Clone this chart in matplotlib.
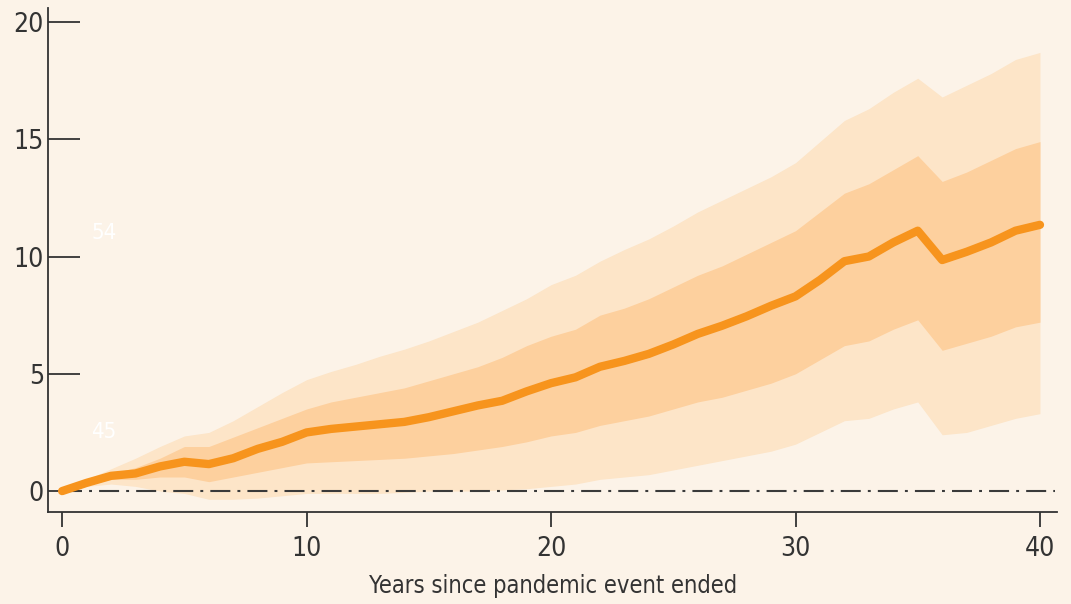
import matplotlib.pyplot as plt
from matplotlib import font_manager

# years since the pandemic event ended
years = list(range(41))

# median response (percent)
median = [0.0, 0.35, 0.65, 0.75, 1.05, 1.25, 1.15, 1.4, 1.8, 2.1,
          2.5, 2.65, 2.75, 2.85, 2.95, 3.15, 3.4, 3.65, 3.85, 4.25,
          4.6, 4.85, 5.3, 5.55, 5.85, 6.25, 6.7, 7.05, 7.45, 7.9,
          8.3, 9.0, 9.8, 10.0, 10.6, 11.1, 9.85, 10.2, 10.6, 11.1, 11.35]

# inner band (68%)
inner_hi = [0.0, 0.4, 0.75, 1.0, 1.4, 1.9, 1.9, 2.3, 2.7, 3.1,
            3.5, 3.8, 4.0, 4.2, 4.4, 4.7, 5.0, 5.3, 5.7, 6.2,
            6.6, 6.9, 7.5, 7.8, 8.2, 8.7, 9.2, 9.6, 10.1, 10.6,
            11.1, 11.9, 12.7, 13.1, 13.7, 14.3, 13.2, 13.6, 14.1, 14.6, 14.9]
inner_lo = [0.0, 0.3, 0.5, 0.5, 0.6, 0.6, 0.4, 0.6, 0.8, 1.0,
            1.2, 1.25, 1.3, 1.35, 1.4, 1.5, 1.6, 1.75, 1.9, 2.1,
            2.35, 2.5, 2.8, 3.0, 3.2, 3.5, 3.8, 4.0, 4.3, 4.6,
            5.0, 5.6, 6.2, 6.4, 6.9, 7.3, 6.0, 6.3, 6.6, 7.0, 7.2]

# outer band (95%)
outer_hi = [0.0, 0.5, 0.95, 1.4, 1.9, 2.35, 2.5, 3.0, 3.6, 4.2,
            4.75, 5.1, 5.4, 5.75, 6.05, 6.4, 6.8, 7.2, 7.7, 8.2,
            8.8, 9.2, 9.8, 10.3, 10.75, 11.3, 11.9, 12.4, 12.9, 13.4,
            14.0, 14.9, 15.8, 16.3, 17.0, 17.6, 16.8, 17.3, 17.8, 18.4, 18.7]
outer_lo = [0.0, 0.2, 0.3, 0.2, 0.0, -0.1, -0.35, -0.35, -0.3, -0.2,
            -0.1, -0.1, -0.1, -0.1, -0.05, 0.0, 0.0, 0.0, 0.05, 0.1,
            0.2, 0.3, 0.5, 0.6, 0.7, 0.9, 1.1, 1.3, 1.5, 1.7,
            2.0, 2.5, 3.0, 3.1, 3.5, 3.8, 2.4, 2.5, 2.8, 3.1, 3.3]

x_ticks = [0, 10, 20, 30, 40]
y_ticks = [0, 5, 10, 15, 20]

bg = "#fcf3e8"
ink = "#333333"

# narrow font if there is one, else condensed DejaVu
names = {f.name for f in font_manager.fontManager.ttflist}
if "Liberation Sans Narrow" in names:
    plt.rcParams['font.family'] = ['Liberation Sans Narrow', 'DejaVu Sans']
else:
    plt.rcParams['font.family'] = ['DejaVu Sans']
    plt.rcParams['font.stretch'] = 'condensed'

fig = plt.figure(figsize=(10.71, 6.04), dpi=100, facecolor=bg)
ax = fig.add_axes([0.045, 0.152, 0.942, 0.835], facecolor=bg)

ax.fill_between(years, outer_lo, outer_hi, color="#fde5c8", lw=0)
ax.fill_between(years, inner_lo, inner_hi, color="#fdd09e", lw=0)
ax.plot([0, 40.6], [0, 0], color="#3a3a3a", lw=1.5, dashes=[9.6, 3.4, 1.4, 3.4])
ax.plot(years, median, color="#f7941d", lw=6, solid_capstyle="round")

# faint white labels left over in the original
ax.text(1.2, 11.0, "54", color="white", fontsize=16, va="center")
ax.text(1.2, 2.5, "45", color="white", fontsize=16, va="center")

ax.set_xlim(-0.57, 40.7)
ax.set_ylim(-0.9, 20.6)
ax.set_xticks(x_ticks)
ax.set_yticks(y_ticks)

for side in ["top", "right"]:
    ax.spines[side].set_visible(False)
for side in ["left", "bottom"]:
    ax.spines[side].set_color(ink)
    ax.spines[side].set_linewidth(1.3)

ax.tick_params(axis="y", direction="in", length=23, width=1.3, color=ink,
               labelsize=19, labelcolor=ink, pad=3)
ax.tick_params(axis="x", direction="out", length=11, width=1.3, color=ink,
               labelsize=19, labelcolor=ink, pad=6)

ax.set_xlabel("Years since pandemic event ended", fontsize=17, color=ink, labelpad=9)

fig.savefig("out.png", dpi=100, facecolor=bg)
